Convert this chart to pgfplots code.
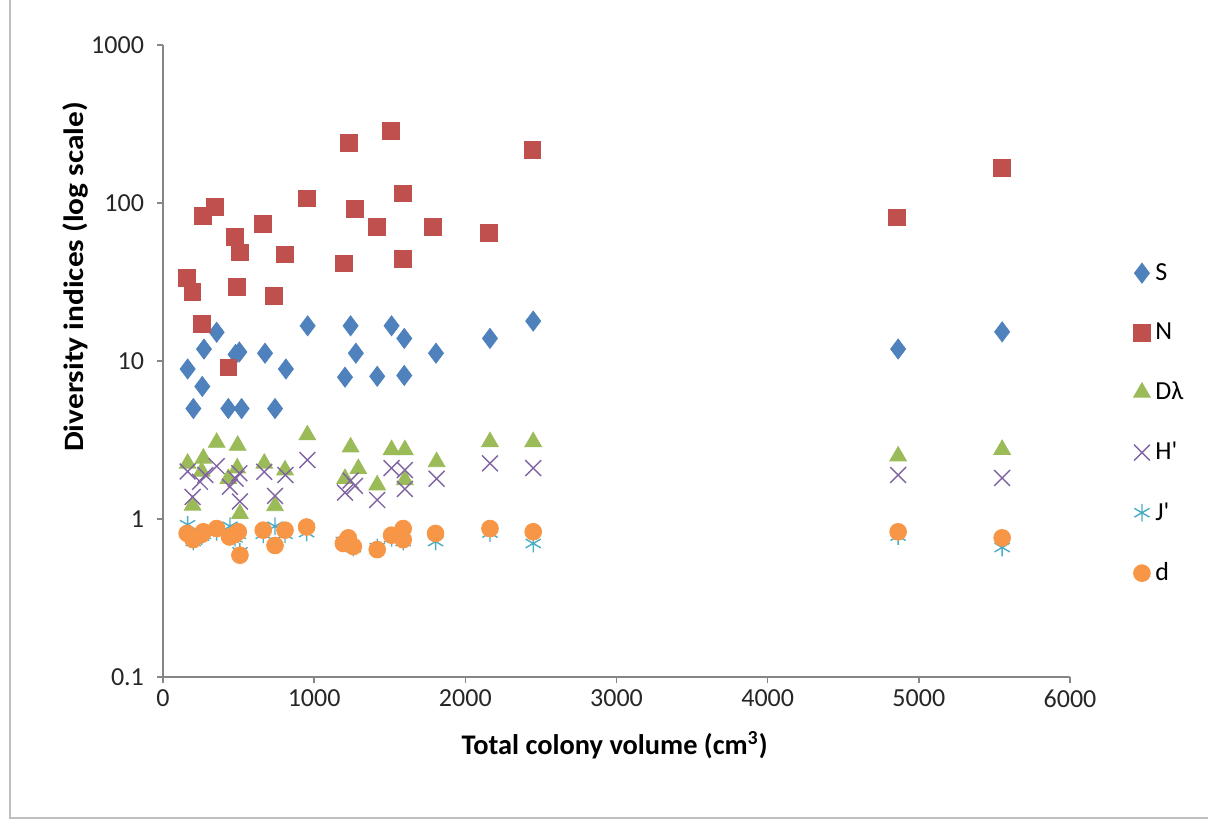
\documentclass[border=0pt]{standalone}
\usepackage{fontspec}
\setmainfont{Carlito}
\usepackage{graphicx}
\usepackage{pgfplots}
\usepackage{pgfplotstable}
\pgfplotsset{compat=1.18}
\definecolor{cS}{HTML}{4F81BD}
\definecolor{cN}{HTML}{C0504D}
\definecolor{cD}{HTML}{9BBB59}
\definecolor{cH}{HTML}{8064A2}
\definecolor{cJ}{HTML}{4BACC6}
\definecolor{cd}{HTML}{F79646}
\definecolor{axgray}{HTML}{868686}

\pgfplotstableread{
x y
163 8.9
201 5.0
260 6.9
271 11.9
355 15.2
432 5.0
480 11.0
505 11.4
520 5.0
675 11.2
741 5.0
813 8.9
957 16.7
1204 7.9
1241 16.7
1276 11.2
1417 8.0
1512 16.7
1596 13.9
1596 8.1
1806 11.2
2163 13.9
2449 17.9
4863 11.9
5551 15.3
}\tS

\pgfplotstableread{
x y
157 33.4
194 27.5
256 17.1
263 83
344 95
432 9.1
476 61
487 29.3
509 48.7
663 73.6
736 25.8
807 47.3
950 107
1199 41.5
1232 239
1270 91.6
1413 71
1506 287
1589 115
1589 44.2
1788 71
2158 65
2443 216
4857 81
5547 167
}\tN

\pgfplotstableread{
x y
163 2.25
196 1.22
256 2.0
267 2.42
355 3.05
432 1.8
491 2.1
494 2.92
509 1.08
670 2.25
741 1.21
807 2.04
955 3.4
1204 1.8
1241 2.85
1292 2.08
1417 1.64
1512 2.74
1600 2.74
1600 1.77
1810 2.3
2163 3.08
2449 3.08
4863 2.5
5551 2.75
}\tD

\pgfplotstableread{
x y
163 2.0
196 1.38
245 1.72
280 1.9
355 2.16
443 1.6
480 1.8
505 1.95
509 1.29
670 1.99
741 1.4
810 1.9
955 2.36
1204 1.47
1241 1.75
1270 1.62
1417 1.32
1512 2.1
1600 2.04
1600 1.55
1810 1.8
2163 2.25
2449 2.1
4863 1.9
5551 1.82
}\tH

\pgfplotstableread{
x y
163 0.92
200 0.72
256 0.78
267 0.8
355 0.83
443 0.9
476 0.76
498 0.8
509 0.62
663 0.8
741 0.9
807 0.8
950 0.82
1193 0.72
1226 0.74
1259 0.66
1417 0.66
1512 0.76
1589 0.83
1589 0.72
1803 0.72
2163 0.815
2449 0.70
4863 0.78
5551 0.66
}\tJ

\pgfplotstableread{
x y
160 0.81
200 0.74
256 0.80
267 0.83
355 0.87
440 0.77
476 0.80
498 0.83
509 0.59
663 0.85
741 0.68
807 0.85
950 0.89
1193 0.70
1226 0.76
1259 0.67
1417 0.64
1512 0.79
1589 0.87
1589 0.74
1803 0.81
2163 0.87
2449 0.83
4863 0.83
5551 0.76
}\td

\begin{document}
\begin{tikzpicture}
\path[use as bounding box] (0,0) rectangle (604pt,412.5pt);
\draw[gray!50, line width=0.6pt] (5pt,412.5pt) -- (5pt,3.5pt) -- (604pt,3.5pt);
\begin{axis}[
  at={(81.5pt,74pt)}, anchor=south west,
  scale only axis, width=453.5pt, height=316pt,
  xmin=0, xmax=6000,
  ymode=log, log basis y=10, ymin=0.1, ymax=1000,
  yminorticks=false,
  axis x line*=bottom, axis y line*=left,
  axis line style={draw=axgray, line width=0.8pt},
  tick style={draw=axgray, line width=0.8pt},
  tick align=outside, major tick length=3pt,
  xtick={0,1000,2000,3000,4000,5000,6000},
  ytick={0.1,1,10,100,1000},
  yticklabels={0.1,1,10,100,1000},
  /pgf/number format/1000 sep={},
  /pgf/number format/assume math mode=true,
  ticklabel style={font=\fontsize{13}{15}\selectfont, text=black!85},
  yticklabel style={xshift=-3pt},
  xlabel={\textbf{Total colony volume (cm\textsuperscript{3})}},
  ylabel={\scalebox{1.12}[1]{\textbf{Diversity indices (log scale)}}},
  xlabel style={at={(axis description cs:0.498,-0.108)}, anchor=center, font=\fontsize{14.2}{16}\selectfont},
  ylabel style={at={(axis description cs:-0.097,0.633)}, anchor=center, font=\fontsize{14}{16}\selectfont},
  legend style={at={(axis description cs:1.063,0.668)}, anchor=north west, draw=none, fill=none,
    font=\fontsize{13}{15}\selectfont, row sep=15.8pt, legend cell align=left,
    nodes={inner xsep=2.5pt}},
  legend image code/.code={\draw[#1] plot coordinates {(0.15cm,0cm)};},
  clip=false,
]
\addplot[only marks, mark=diamond*, mark size=5pt, color=cS] table {\tS};
\addlegendentry{S}
\addplot[only marks, mark=square*, mark size=4.2pt, color=cN] table {\tN};
\addlegendentry{N}
\addplot[only marks, mark=triangle*, mark size=4.8pt, color=cD] table {\tD};
\addlegendentry{Dλ}
\addplot[only marks, mark=x, mark size=5.6pt, color=cH, mark options={line width=0.7pt}] table {\tH};
\addlegendentry{H\textquotesingle}
\addplot[only marks, mark=asterisk, mark size=4.4pt, color=cJ, mark options={line width=0.7pt}] table {\tJ};
\addlegendentry{J\textquotesingle}
\addplot[only marks, mark=*, mark size=4.2pt, color=cd] table {\td};
\addlegendentry{d}
\end{axis}
\end{tikzpicture}
\end{document}
